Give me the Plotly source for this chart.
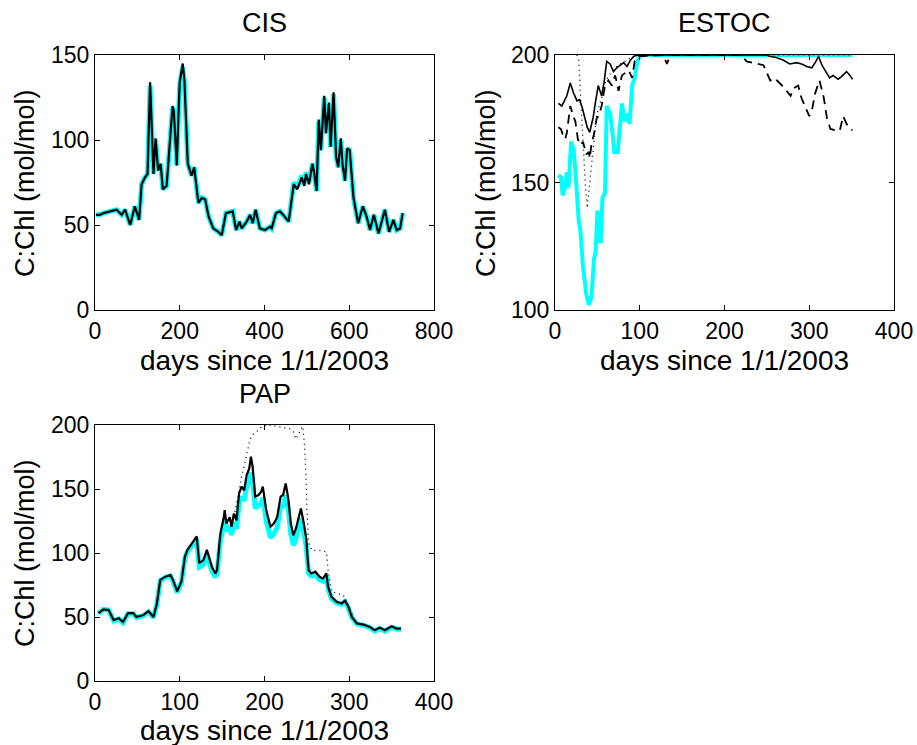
import plotly.graph_objects as go

# ---------------- CIS ----------------
cis_days = [2, 12, 20, 35, 51, 63, 71, 83, 94, 104, 110, 118, 124, 130, 138, 143, 149, 155, 160, 169,
            175, 183, 186, 193, 197, 200, 207, 211, 219, 228, 234, 244, 252, 260, 268, 279, 291, 299, 309, 325,
            333, 341, 346, 358, 366, 372, 379, 389, 401, 413, 417, 427, 436, 444, 457, 469, 477, 488, 494, 498,
            505, 513, 517, 523, 528, 533, 541, 545, 552, 556, 563, 569, 574, 580, 584, 590, 595, 601, 610, 621,
            632, 641, 649, 658, 669, 676, 684, 694, 704, 712, 720, 726]
cis_model = [56, 56, 57, 58, 59, 56, 59, 50, 61, 53, 74, 78, 80, 134, 80, 101, 82, 86, 71, 73,
             91, 120, 117, 85, 115, 134, 145, 135, 86, 79, 84, 63, 66, 65, 55, 48, 46, 44, 57, 58,
             47, 52, 48, 52, 56, 51, 59, 48, 47, 49, 48, 57, 58, 56, 52, 74, 71, 78, 73, 80,
             74, 86, 81, 70, 112, 94, 126, 104, 122, 96, 128, 90, 84, 101, 86, 76, 95, 94, 66, 51,
             61, 55, 47, 56, 45, 51, 59, 46, 53, 47, 48, 57]
cis_obs = [56, 56, 57, 58, 59, 56, 59, 50, 61, 53, 74, 78, 80, 132, 80, 100, 82, 86, 71, 73,
           91, 119, 117, 85, 115, 133, 143, 134, 86, 79, 84, 63, 66, 65, 55, 48, 46, 44, 57, 58,
           47, 52, 48, 52, 56, 51, 59, 48, 47, 49, 48, 57, 58, 56, 52, 75, 72, 79, 74, 81,
           75, 86, 81, 70, 111, 94, 125, 104, 121, 96, 127, 90, 84, 100, 86, 76, 95, 94, 66, 51,
           61, 55, 47, 56, 45, 51, 59, 46, 53, 47, 48, 57]

# ---------------- ESTOC ----------------
estoc_obs_days = [4, 7, 9, 12, 14, 16, 19, 22, 25, 28, 30, 33, 37, 40, 43, 46, 48, 50, 52, 54,
                  56, 59, 61, 65, 68, 70, 74, 77, 79, 82, 85, 88, 91, 94, 97, 100, 200, 351]
estoc_obs = [153, 152, 145, 148, 154, 148, 166, 163, 150, 135, 131, 117, 106, 102, 105, 120, 123, 139, 127, 127,
             144, 146, 180, 177, 169, 162, 162, 173, 181, 174, 177, 173, 188, 191, 197, 200, 200, 200]

estoc_solid_days = [4, 8, 11, 14, 18, 22, 26, 29, 32, 35, 38, 41, 45, 48, 51, 55, 58, 61, 65, 69,
                    73, 77, 81, 85, 89, 93, 98, 150, 250, 253, 261, 269, 277, 285, 291, 297, 303, 307, 311, 315,
                    321, 324, 328, 334, 338, 344, 348, 351]
estoc_solid = [181, 180, 182, 184, 189, 185, 182, 182.5, 179.5, 175.5, 171.7, 169.7, 175.5, 182, 188, 184, 189.5, 197.5, 196.5, 193.5,
               195, 196, 197, 195.5, 198, 199.5, 200, 200, 200, 199.5, 199, 198, 196.5, 197, 196.5, 195.5, 195, 197, 199.5, 196,
               193, 191, 192, 190.5, 191.5, 193.5, 192, 190.5]

estoc_dash_days = [4, 7, 9, 12, 14, 18, 21, 24, 27, 30, 33, 37, 40, 41, 43, 46, 49, 52, 55, 59,
                   63, 67, 71, 75, 79, 83, 87, 91, 94, 98, 128, 132, 136, 200, 220, 226, 246, 250, 254, 258,
                   262, 268, 273, 278, 282, 287, 291, 295, 300, 303, 307, 312, 317, 321, 325, 330, 336, 340, 344, 348,
                   351]
estoc_dash = [171.7, 171, 169, 167, 169.5, 180, 176.5, 174, 167, 164.7, 166, 161, 162, 159.5, 165, 169, 175, 176.5, 180, 188,
              190, 188, 192, 186, 192, 193, 194, 191, 197.5, 199.5, 200, 196.5, 200, 200, 200, 197.5, 196, 193, 190, 191,
              190, 188, 186, 184, 187, 188, 183, 180, 176, 178, 185, 190, 183.5, 175, 171, 170.5, 170.3, 176, 173, 171,
              170.5]

estoc_dot_days = [26, 28, 30, 33, 36, 38, 41, 43, 46, 49, 52, 55, 60, 70, 80, 90, 100, 351]
estoc_dot = [200, 198, 185, 165, 148, 140, 150, 156, 166, 176, 180, 183, 190, 195, 197, 199, 200, 200]

# ---------------- PAP ----------------
pap_days = [4, 10, 16, 22, 28, 33, 39, 45, 49, 57, 63, 69, 73, 77, 83, 89, 92, 97, 102, 106,
            109, 112, 116, 120, 123, 128, 132, 138, 142, 144, 148, 152, 153, 155, 159, 161, 164, 167, 170, 173,
            176, 179, 182, 184, 186, 189, 193, 196, 198, 202, 207, 211, 215, 219, 222, 225, 228, 231, 234, 237,
            240, 243, 246, 249, 252, 255, 260, 265, 269, 273, 275, 279, 285, 291, 295, 299, 303, 309, 317, 325,
            330, 336, 342, 350, 356, 361]
pap_model = [53, 56, 55.5, 47.6, 49, 46, 53, 53, 50, 51.5, 54.6, 50, 60.4, 79, 81.5, 82.8, 79, 70, 77.7, 97,
             102.4, 105, 109, 113, 92, 94.5, 102.4, 89, 84, 86.7, 115.3, 128, 133.4, 123, 128, 120.5, 130.8, 125.5, 146.6, 151.8,
             149, 160.9, 166, 175.2, 167.4, 144, 145.3, 147.8, 151.8, 133.5, 120.5, 123, 128, 144, 145.3, 154.4, 142.7, 123, 113.8, 119,
             128, 134.8, 124.4, 112.6, 86.7, 84, 85.4, 81.4, 80, 84, 73.6, 65.8, 61.9, 60.6, 62.7, 58, 50, 45, 44, 42,
             39.6, 41.7, 39.6, 42.7, 40.9, 40.9]
pap_obs = [53, 56, 55.5, 47, 48.5, 45.5, 52.5, 52.5, 49.5, 51, 54, 49.5, 60, 78.5, 81, 82, 78, 69, 77, 96,
           101, 103, 107, 111, 89, 91, 99, 86, 81, 84, 110, 122, 127, 117, 121, 114, 124, 119, 139, 144,
           141, 152, 156, 163, 157, 135, 137, 139, 143, 125, 112, 115, 120, 136, 137, 145, 135, 115, 106, 111,
           120, 127, 116, 106, 84, 82, 83, 79, 78, 82, 72, 64.5, 61, 60, 62, 57, 49.5, 44.5, 43.5, 41.5,
           39, 41, 39, 42, 40.5, 40.5]
pap_dot_days = [160, 165, 170, 173, 176, 179, 182, 185, 191, 197, 205, 230, 234, 237, 241, 245, 247, 249, 250, 252,
                256, 265, 273, 275, 279, 285, 293, 301, 305]
pap_dot = [125, 132, 148, 160, 168, 178, 186, 192, 195, 199, 200, 197, 195, 189, 194, 199, 186, 160, 134, 108,
           102, 102, 101, 87, 70, 68.5, 67, 55.5, 50]

XLABEL = "days since 1/1/2003"
YLABEL = "C:Chl (mol/mol)"
TITLES = ["CIS", "ESTOC", "PAP"]

CYAN = "#00FFFF"
FONT = "Liberation Sans, Arial, Helvetica, sans-serif"

fig = go.Figure()

def add(x, y, xa, ya, color, width, dash="solid"):
    fig.add_trace(go.Scatter(x=x, y=y, mode="lines", xaxis=xa, yaxis=ya,
                             line=dict(color=color, width=width, dash=dash), showlegend=False,
                             hoverinfo="skip"))

# CIS
add(cis_days, cis_obs, "x", "y", CYAN, 5)
add(cis_days, cis_model, "x", "y", "black", 2.2)
# ESTOC
add(estoc_obs_days, estoc_obs, "x2", "y2", CYAN, 4)
add(estoc_dot_days, estoc_dot, "x2", "y2", "black", 1.3, "1px,4px")
add(estoc_dash_days, estoc_dash, "x2", "y2", "black", 1.8, "9px,6px")
add(estoc_solid_days, estoc_solid, "x2", "y2", "black", 1.6)
# PAP
add(pap_days, pap_obs, "x3", "y3", CYAN, 5)
add(pap_dot_days, pap_dot, "x3", "y3", "black", 1.3, "1px,4px")
add(pap_days, pap_model, "x3", "y3", "black", 2.2)

ax_common = dict(showline=True, linecolor="black", linewidth=1, mirror="ticks",
                 ticks="inside", ticklen=5, tickcolor="black", showgrid=False, zeroline=False,
                 tickfont=dict(family=FONT, size=23, color="black"), automargin=False)

W, H = 917, 745
def dx(a, b):
    return [a / W, b / W]
def dy(top, bottom):
    return [1 - bottom / H, 1 - top / H]

fig.update_layout(
    width=W, height=H, margin=dict(l=0, r=0, t=0, b=0),
    paper_bgcolor="white", plot_bgcolor="white",
    xaxis=dict(domain=dx(95, 434), range=[0, 800], tickvals=[0, 200, 400, 600, 800],
               anchor="y", **ax_common),
    yaxis=dict(domain=dy(55, 310), range=[0, 150], tickvals=[0, 50, 100, 150],
               anchor="x", **ax_common),
    xaxis2=dict(domain=dx(555, 894), range=[0, 400], tickvals=[0, 100, 200, 300, 400],
                anchor="y2", **ax_common),
    yaxis2=dict(domain=dy(55, 310), range=[100, 200], tickvals=[100, 150, 200],
                anchor="x2", **ax_common),
    xaxis3=dict(domain=dx(95, 434), range=[0, 400], tickvals=[0, 100, 200, 300, 400],
                anchor="y3", **ax_common),
    yaxis3=dict(domain=dy(425, 681), range=[0, 200], tickvals=[0, 50, 100, 150, 200],
                anchor="x3", **ax_common),
)

def note(txt, xc, yc, size, angle=0):
    fig.add_annotation(text=txt, x=xc / W, y=1 - yc / H, xref="paper", yref="paper",
                       showarrow=False, xanchor="center", yanchor="middle", textangle=angle,
                       font=dict(family=FONT, size=size, color="black"))

# subplot titles
note(TITLES[0], 264.5, 23, 27)
note(TITLES[1], 724.5, 23, 27)
note(TITLES[2], 264.5, 394, 27)
# x axis titles
note(XLABEL, 264.5, 361, 28)
note(XLABEL, 724.5, 361, 28)
note(XLABEL, 264.5, 730, 28)
# y axis titles
note(YLABEL, 25, 183, 27, -90)
note(YLABEL, 486, 183, 27, -90)
note(YLABEL, 25, 553, 27, -90)

fig.write_html("out.html", config={"displayModeBar": False},
               post_script="document.body.style.margin='0px';document.body.style.overflow='hidden';")
